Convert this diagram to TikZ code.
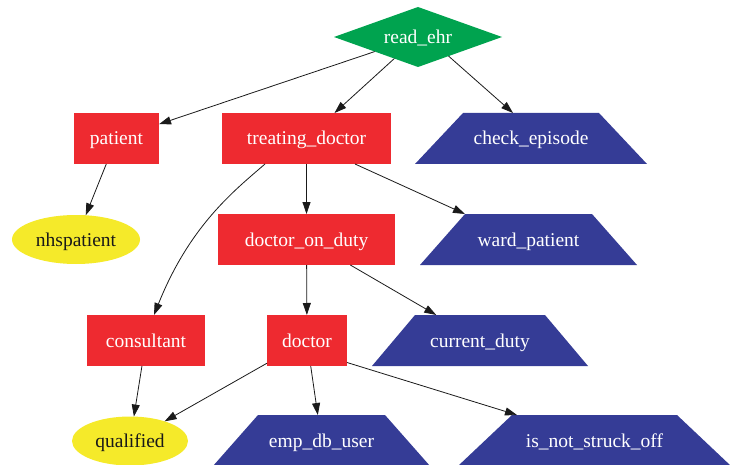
\documentclass[tikz,border=0pt]{standalone}
\usepackage{fontspec}
\setmainfont{Liberation Serif}
\usetikzlibrary{shapes.geometric,arrows.meta}

\definecolor{rulered}{HTML}{EE2A30}
\definecolor{ruleblue}{HTML}{353C96}
\definecolor{rulegreen}{HTML}{00A34F}
\definecolor{ruleyellow}{HTML}{F5EA2A}
\definecolor{edgegray}{HTML}{1A1A1A}

\tikzset{
  base/.style={inner sep=0pt, outer sep=0pt, text height=15pt, text depth=2pt,
    font=\fontsize{19.5}{22}\selectfont},
  rolebox/.style={base, rectangle, fill=rulered, text=white, minimum height=51pt},
  entry/.style={base, diamond, fill=rulegreen, text=white, aspect=2.8,
    minimum width=168pt, minimum height=60pt},
  cond/.style={base, ellipse, fill=ruleyellow, text=black!90, minimum height=49pt},
  % trapezium drawn inside a rectangle node; #1 = horizontal inset of the top edge
  check/.style={base, rectangle, text=white, minimum height=51pt,
    path picture={\fill[ruleblue]
      (path picture bounding box.south west) --
      (path picture bounding box.south east) --
      ([xshift=-#1]path picture bounding box.north east) --
      ([xshift=#1]path picture bounding box.north west) -- cycle;}},
  edge/.style={draw=edgegray, line width=0.8pt,
    -{Triangle[length=12pt,width=8pt]}}
}

\begin{document}
\begin{tikzpicture}[x=1pt, y=-1pt]
  \useasboundingbox (0,0) rectangle (733,465);

  % top: entry point
  \node[entry] (r) at (418,37) {read\_ehr};

  % second row
  \node[rolebox, minimum width=85pt]  (pat) at (116.5,138.5) {patient};
  \node[rolebox, minimum width=169pt] (td)  at (306.5,138.5) {treating\_doctor};
  \node[check=48pt, minimum width=232pt] (ce) at (531,138.5) {check\_episode};

  % third row
  \node[cond, minimum width=128pt]    (nhs) at (76,239.5) {nhspatient};
  \node[rolebox, minimum width=177pt] (dod) at (306.5,239.5) {doctor\_on\_duty};
  \node[check=45pt, minimum width=217pt] (wp) at (528.5,239.5) {ward\_patient};

  % fourth row
  \node[rolebox, minimum width=118pt] (con) at (146,340.5) {consultant};
  \node[rolebox, minimum width=80pt]  (dr)  at (307,340.5) {doctor};
  \node[check=43pt, minimum width=216pt] (cd) at (480,340.5) {current\_duty};

  % bottom row
  \node[cond, minimum width=116pt]    (q)   at (130,441) {qualified};
  \node[check=45pt, minimum width=217pt] (edb) at (321.5,440.5) {emp\_db\_user};
  \node[check=54pt, minimum width=273pt] (ins) at (594.5,440.5) {is\_not\_struck\_off};

  % connectors
  \draw[edge] (r) -- (pat);
  \draw[edge] (r) -- (td);
  \draw[edge] (r.-32) -- ([xshift=98pt]ce.north west);
  \draw[edge] (pat) -- (nhs);
  \draw[edge] (td) -- (dod);
  \draw[edge] ([xshift=48.5pt]td.south) -- ([xshift=45pt]wp.north west);
  \draw[edge] ([xshift=-41.5pt]td.south) .. controls (235,190) and (190,225) .. ([xshift=8pt]con.north);
  \draw[edge] (dod) -- (dr);
  \draw[edge] (dod) -- (cd);
  \draw[edge] (con) -- (q);
  \draw[edge] (dr) -- (q);
  \draw[edge] (dr) -- (edb);
  \draw[edge] ([yshift=-22pt]dr.east) -- ([xshift=59pt]ins.north west);
\end{tikzpicture}
\end{document}
